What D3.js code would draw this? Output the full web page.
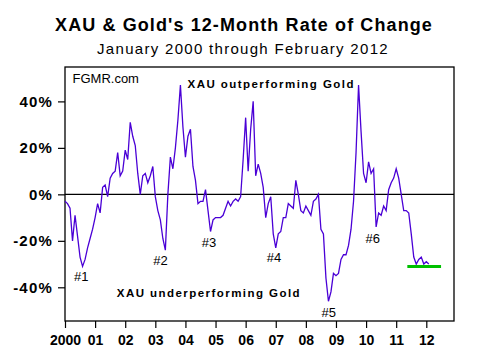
<!DOCTYPE html>
<html>
<head>
<meta charset="utf-8">
<script src="https://cdn.jsdelivr.net/npm/d3@7"></script>
<style>
  body { margin: 0; background: #fff; }
  svg { display: block; font-family: "Liberation Sans", Arial, sans-serif; }
</style>
</head>
<body>
<div id="chart"></div>
<script>
const width = 489;
const height = 361;
const margin = {top: 67, right: 35, bottom: 40, left: 65};

// 12-month rate of change, XAU vs gold, monthly Jan 2000 .. Feb 2012 (%)
const startYear = 2000;
const xauRoc = [
  -3, -4, -6, -20, -9, -18, -27, -31, -28, -23, -19, -15,     // 2000
  -10, -4, -8, 3, 4, -1, 7, 9, 10, 18, 8, 10,                 // 2001
  19, 15, 31, 25, 21, 9, 0, 8, 9, 5, 8, 12,                   // 2002
  -1, -7, -11, -19, -24, 0, 16, 11, 20, 32, 47, 29,           // 2003
  16, 25, 28, 12, 6, -4, -3, -3, 2, -7, -16, -11,             // 2004
  -10, -10, -10, -9, -6, -3, -5, -3, -2, -3, -1, 15,          // 2005
  33, 10, 28, 40, 8, 13, 9, 3, -10, -4, -1, -17,              // 2006
  -23, -17, -16, -10, -10, -4, -5, -6, 6, 0, -7, -8,          // 2007
  -5, -7, -9, -3, -2, 0, -15, -17, -36, -46, -42, -34,        // 2008
  -35, -34, -28, -26, -26, -22, -15, -3, 18, 47, 27, 9,       // 2009
  5, 14, 9, 11, -14, -8, -9, -5, -7, 2, 5, 7,                 // 2010
  11, 7, 0, -7, -7, -8, -17, -27, -30, -28, -27, -30,         // 2011
  -29, -30                                                    // 2012
];

const yearLabels = ["2000", "01", "02", "03", "04", "05", "06", "07", "08", "09", "10", "11", "12"];
const yTicks = [40, 20, 0, -20, -40];

// green reference line at the current level
const targetLevel = -31;
const targetSpan = [2011.37, 2012.49];

const notes = [
  {text: "#1", year: 2000.30, value: -37.3},
  {text: "#2", year: 2002.93, value: -30.4},
  {text: "#3", year: 2004.54, value: -22.7},
  {text: "#4", year: 2006.70, value: -29},
  {text: "#5", year: 2008.52, value: -52.6},
  {text: "#6", year: 2009.98, value: -21}
];
const regionNotes = [
  {text: "XAU outperforming Gold", year: 2004.07, value: 45.7},
  {text: "XAU underperforming Gold", year: 2001.72, value: -44}
];

const data = xauRoc.map((v, i) => ({year: startYear + i / 12, value: v}));

const svg = d3.select("#chart").append("svg")
    .attr("width", width)
    .attr("height", height);

const x = d3.scaleLinear()
    .domain([2000, 2012.92])
    .range([margin.left, width - margin.right]);
const y = d3.scaleLinear()
    .domain([-54.5, 54.8])
    .range([height - margin.bottom, margin.top]);

// titles
svg.append("text")
    .attr("x", 244).attr("y", 30.5)
    .attr("text-anchor", "middle")
    .style("font-size", "18px").style("font-weight", "bold")
    .style("letter-spacing", "1.1px")
    .text("XAU & Gold's 12-Month Rate of Change");
svg.append("text")
    .attr("x", 243).attr("y", 54)
    .attr("text-anchor", "middle")
    .style("font-size", "15px")
    .style("letter-spacing", "1.3px")
    .text("January 2000 through February 2012");

// axes
const yAxis = d3.axisLeft(y)
    .tickValues(yTicks)
    .tickFormat(d => d + "%")
    .tickSize(7)
    .tickPadding(5);
const gy = svg.append("g")
    .attr("transform", `translate(${margin.left},0)`)
    .call(yAxis);
gy.select(".domain").remove();
gy.selectAll("text")
    .style("font-size", "15px").style("font-weight", "bold")
    .style("letter-spacing", "1.2px")
    .style("font-family", "'Liberation Sans', Arial, sans-serif")
    .attr("fill", "#000");

const xAxis = d3.axisBottom(x)
    .tickValues(d3.range(2000, 2013))
    .tickFormat((d, i) => yearLabels[i])
    .tickSize(7)
    .tickPadding(7);
const gx = svg.append("g")
    .attr("transform", `translate(0,${height - margin.bottom})`)
    .call(xAxis);
gx.select(".domain").remove();
gx.selectAll("text")
    .style("font-size", "14px").style("font-weight", "bold")
    .style("font-family", "'Liberation Sans', Arial, sans-serif")
    .attr("fill", "#000");
svg.selectAll(".tick line").attr("stroke", "#000").attr("stroke-width", 1.2);

// frame
svg.append("rect")
    .attr("x", margin.left)
    .attr("y", margin.top)
    .attr("width", width - margin.left - margin.right)
    .attr("height", height - margin.top - margin.bottom)
    .attr("fill", "none")
    .attr("stroke", "#000")
    .attr("stroke-width", 1.3);

// zero line
svg.append("line")
    .attr("x1", x(2000)).attr("x2", x(2012.92))
    .attr("y1", y(0)).attr("y2", y(0))
    .attr("stroke", "#000")
    .attr("stroke-width", 1.2);

// the series
const line = d3.line()
    .x(d => x(d.year))
    .y(d => y(d.value));
svg.append("path")
    .datum(data)
    .attr("d", line)
    .attr("fill", "none")
    .attr("stroke", "#4a00d6")
    .attr("stroke-width", 1.3);

svg.append("line")
    .attr("x1", x(targetSpan[0])).attr("x2", x(targetSpan[1]))
    .attr("y1", y(targetLevel)).attr("y2", y(targetLevel))
    .attr("stroke", "#00c000")
    .attr("stroke-width", 3);

// annotations
svg.append("text")
    .attr("x", margin.left + 7.5).attr("y", margin.top + 15.5)
    .style("font-size", "13px")
    .text("FGMR.com");

svg.selectAll(".note")
    .data(notes)
    .join("text")
    .attr("class", "note")
    .attr("x", d => x(d.year))
    .attr("y", d => y(d.value))
    .style("font-size", "13px")
    .text(d => d.text);

svg.selectAll(".region")
    .data(regionNotes)
    .join("text")
    .attr("class", "region")
    .attr("x", d => x(d.year))
    .attr("y", d => y(d.value))
    .style("font-size", "11.5px").style("font-weight", "bold")
    .style("letter-spacing", "1.45px")
    .text(d => d.text);
</script>
</body>
</html>
